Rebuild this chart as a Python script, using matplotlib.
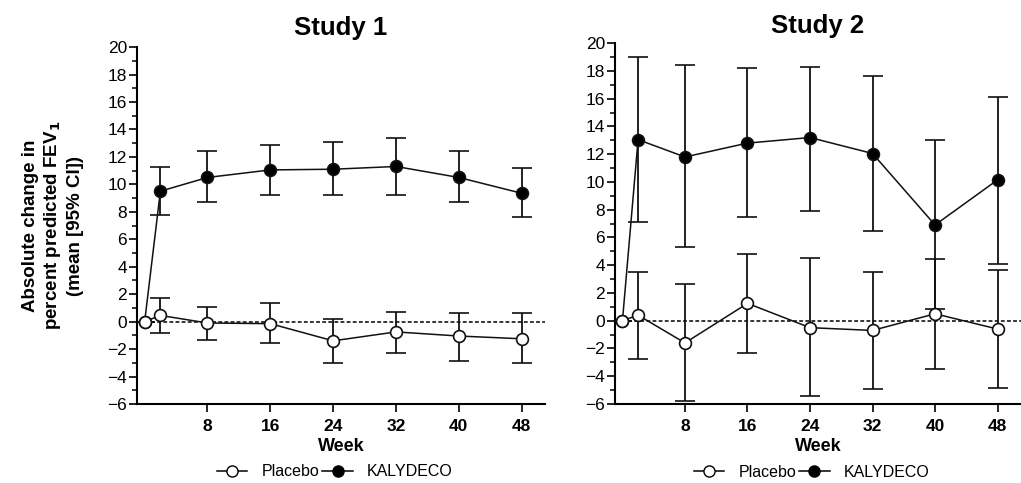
import matplotlib
matplotlib.use('Agg')
import matplotlib.pyplot as plt
from matplotlib.lines import Line2D
from matplotlib.ticker import MultipleLocator

plt.rcParams['font.family'] = ['Liberation Sans', 'DejaVu Sans']

weeks = [0, 2, 8, 16, 24, 32, 40, 48]
week_ticks = [8, 16, 24, 32, 40, 48]

# Study 1
s1_kaly = [0, 9.5, 10.5, 11.05, 11.1, 11.3, 10.5, 9.35]
s1_kaly_lo = [0, 7.75, 8.7, 9.2, 9.2, 9.2, 8.7, 7.6]
s1_kaly_hi = [0, 11.25, 12.4, 12.9, 13.05, 13.4, 12.4, 11.2]
s1_plac = [0, 0.45, -0.1, -0.15, -1.4, -0.75, -1.05, -1.25]
s1_plac_lo = [0, -0.85, -1.35, -1.55, -3.0, -2.3, -2.9, -3.0]
s1_plac_hi = [0, 1.7, 1.1, 1.35, 0.2, 0.7, 0.6, 0.6]

# Study 2
s2_kaly = [0, 13.05, 11.8, 12.8, 13.2, 12.05, 6.9, 10.15]
s2_kaly_lo = [0, 7.1, 5.3, 7.45, 7.9, 6.5, 0.85, 4.1]
s2_kaly_hi = [0, 19.0, 18.45, 18.2, 18.3, 17.6, 13.05, 16.15]
s2_plac = [0, 0.4, -1.6, 1.25, -0.5, -0.7, 0.5, -0.6]
s2_plac_lo = [0, -2.75, -5.8, -2.35, -5.45, -4.95, -3.45, -4.85]
s2_plac_hi = [0, 3.5, 2.65, 4.8, 4.55, 3.5, 4.45, 3.65]


def draw_study(ax, title, kaly, kaly_lo, kaly_hi, plac, plac_lo, plac_hi, title_pad):
    ax.plot([0, 51], [0, 0], ls=(0, (2.5, 1.5)), color='black', lw=1.1, zorder=1)
    # kalydeco first so the open placebo circle sits on top at baseline
    for vals, lo, hi, face in [(kaly, kaly_lo, kaly_hi, 'black'),
                               (plac, plac_lo, plac_hi, 'white')]:
        yerr = [[v - l for v, l in zip(vals, lo)], [h - v for v, h in zip(vals, hi)]]
        ax.errorbar(weeks, vals, yerr=yerr, color='#111111', lw=1.1, elinewidth=1.3,
                    capsize=7, capthick=1.3, marker='o', markersize=8.5,
                    markerfacecolor=face, markeredgecolor='#111111',
                    markeredgewidth=1.2, zorder=3)
    ax.set_xlim(-1, 51)
    ax.set_ylim(-6, 20)
    ax.set_xticks(week_ticks)
    ax.set_xticklabels([str(w) for w in week_ticks], fontweight='bold', fontsize=12.5)
    ax.yaxis.set_major_locator(MultipleLocator(2))
    ax.yaxis.set_minor_locator(MultipleLocator(1))
    ax.tick_params(axis='y', which='major', length=6, width=1.2, labelsize=12.5, pad=1)
    ax.tick_params(axis='y', which='minor', length=3.5, width=1.1)
    ax.tick_params(axis='x', which='major', length=6, width=1.2, pad=5)
    for side in ['top', 'right']:
        ax.spines[side].set_visible(False)
    for side in ['left', 'bottom']:
        ax.spines[side].set_linewidth(1.5)
    ax.set_title(title, fontsize=18.5, fontweight='bold', pad=title_pad)
    ax.set_xlabel('Week', fontsize=13, fontweight='bold', labelpad=3)
    handles = [
        Line2D([], [], color='black', lw=1.1, marker='o', markersize=8,
               markerfacecolor='white', markeredgecolor='black'),
        Line2D([], [], color='black', lw=1.1, marker='o', markersize=8,
               markerfacecolor='black', markeredgecolor='black'),
    ]
    ax.legend(handles, ['Placebo', 'KALYDECO'], loc='center',
              bbox_to_anchor=(0.485, -0.19), ncol=2, frameon=False, fontsize=11.5,
              handlelength=1.9, handletextpad=0.9, columnspacing=0.2,
              borderpad=0, borderaxespad=0)


fig = plt.figure(figsize=(10.21, 4.83), dpi=100)
ax1 = fig.add_axes([0.134, 0.1636, 0.400, 0.739])
ax2 = fig.add_axes([0.602, 0.1636, 0.398, 0.747])

draw_study(ax1, 'Study 1', s1_kaly, s1_kaly_lo, s1_kaly_hi, s1_plac, s1_plac_lo, s1_plac_hi, 9)
draw_study(ax2, 'Study 2', s2_kaly, s2_kaly_lo, s2_kaly_hi, s2_plac, s2_plac_lo, s2_plac_hi, 7)

ax1.set_ylabel('Absolute change in\npercent predicted FEV$_\\mathbf{1}$\n(mean [95% CI])',
               fontsize=13.5, fontweight='bold', labelpad=17, linespacing=1.25)

fig.savefig('out.png', dpi=100)
